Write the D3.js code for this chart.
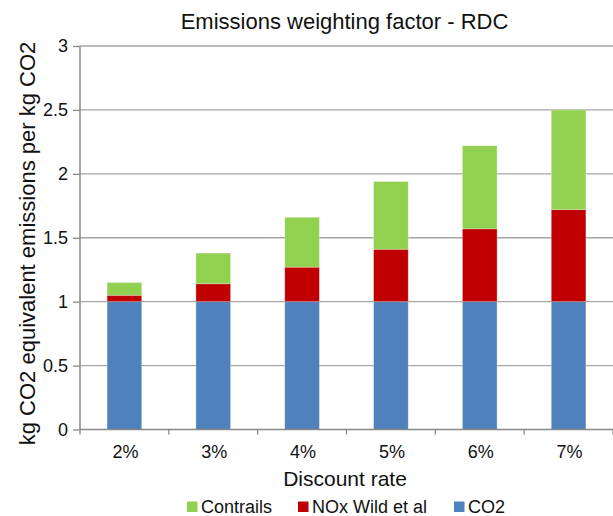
<!DOCTYPE html>
<html><head><meta charset="utf-8">
<script src="https://cdn.jsdelivr.net/npm/d3@7"></script>
<style>body{margin:0;background:#fff}svg{display:block}text{font-family:"Liberation Sans",Arial,sans-serif;fill:#111}</style>
</head><body><svg id="c" width="613" height="516"></svg>
<script>
const categories = ["2%","3%","4%","5%","6%","7%"];
const co2 = [1,1,1,1,1,1];
const nox = [0.05,0.14,0.27,0.41,0.57,0.72];
const contrails = [0.10,0.24,0.39,0.53,0.65,0.78];
const yTicks = [0,0.5,1,1.5,2,2.5,3];
const seriesNames = ["CO2","NOx Wild et al","Contrails"];
const colors = {"CO2":"#4F81BD","NOx Wild et al":"#C00000","Contrails":"#92D050"};
const legendOrder = ["Contrails","NOx Wild et al","CO2"];

const svg = d3.select("#c");
const x = d3.scaleBand().domain(categories).range([80, 613]).paddingInner(0.61).paddingOuter(0.305);
const xb = d3.scaleBand().domain(categories).range([80, 613]);
const y = d3.scaleLinear().domain([0,3]).range([429.5, 46]);

// gridlines
svg.append("g").selectAll("line").data(yTicks.filter(d=>d>0)).join("line")
  .attr("x1",80).attr("x2",613).attr("y1",d=>y(d)).attr("y2",d=>y(d))
  .attr("stroke","#a6a6a6").attr("stroke-width",1.3);

const rows = categories.map((c,i)=>({cat:c, "CO2":co2[i], "NOx Wild et al":nox[i], "Contrails":contrails[i]}));
const stack = d3.stack().keys(seriesNames)(rows);
svg.append("g").selectAll("g").data(stack).join("g")
  .attr("fill",d=>colors[d.key])
  .selectAll("rect").data(d=>d).join("rect")
  .attr("x",d=>x(d.data.cat)).attr("width",x.bandwidth())
  .attr("y",d=>y(d[1])).attr("height",d=>y(d[0])-y(d[1]))
  .attr("stroke","rgba(255,255,255,0.35)").attr("stroke-width",0.8);

// y axis
const ya = svg.append("g").attr("transform","translate(80,0)")
  .call(d3.axisLeft(y).tickValues(yTicks).tickSize(7).tickPadding(5).tickFormat(d=>String(d)));
ya.select(".domain").attr("stroke","#888").attr("stroke-width",1.5).attr("d","M0,46V429.5");
ya.selectAll(".tick line").attr("stroke","#888").attr("stroke-width",1.3);
ya.selectAll(".tick text").attr("font-size",18).attr("fill","#111").attr("font-family","Liberation Sans, Arial, sans-serif");

// x axis
const xg = svg.append("g").attr("transform","translate(0,429.5)");
xg.append("line").attr("x1",80).attr("x2",613).attr("stroke","#888").attr("stroke-width",1.5);
const bounds = categories.map(c=>xb(c)).concat([xb(categories[categories.length-1])+xb.bandwidth()]);
xg.selectAll("line.t").data(bounds).join("line").attr("class","t")
  .attr("x1",d=>d).attr("x2",d=>d).attr("y1",0).attr("y2",5).attr("stroke","#888").attr("stroke-width",1.3);
xg.selectAll("text").data(categories).join("text")
  .attr("x",d=>xb(d)+xb.bandwidth()/2+1).attr("y",28).attr("text-anchor","middle").attr("font-size",18).text(d=>d);

// titles
svg.append("text").attr("x",344.5).attr("y",28.5).attr("text-anchor","middle").attr("font-size",22).text("Emissions weighting factor - RDC");
svg.append("text").attr("x",345).attr("y",486).attr("text-anchor","middle").attr("font-size",21).text("Discount rate");
svg.append("text").attr("transform","translate(35,243.5) rotate(-90)").attr("text-anchor","middle").attr("font-size",22).text("kg CO2 equivalent emissions per kg CO2");

// legend
const legX = [187, 298, 454];
const lg = svg.append("g").selectAll("g").data(legendOrder).join("g")
  .attr("transform",(d,i)=>`translate(${legX[i]},0)`);
lg.append("rect").attr("x",0).attr("y",501.5).attr("width",10.5).attr("height",10.5).attr("fill",d=>colors[d]);
lg.append("text").attr("x",14).attr("y",512.5).attr("font-size",18).text(d=>d);
</script></body></html>
